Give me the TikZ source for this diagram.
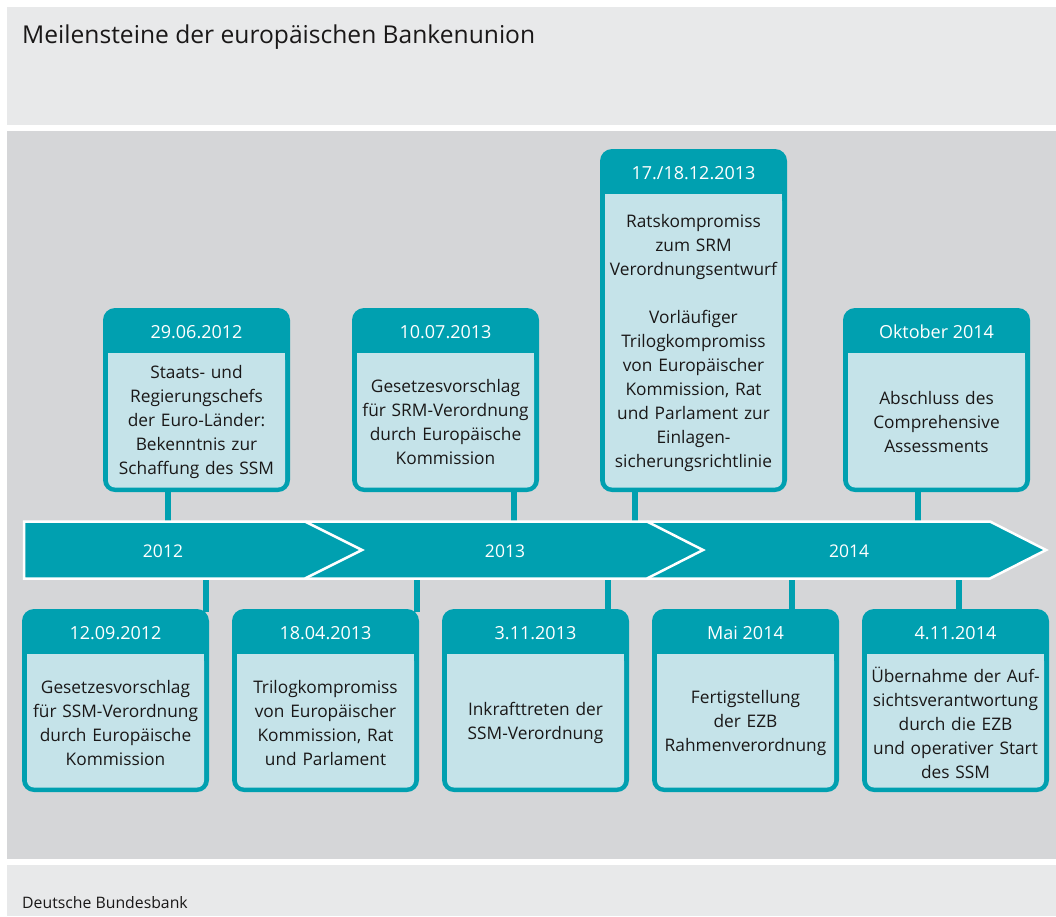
\documentclass[tikz,border=0pt]{standalone}
\usepackage{fontspec}
\setmainfont{Open Sans}
\definecolor{bbteal}{HTML}{00A0B0}
\definecolor{bblight}{HTML}{C5E3E9}
\definecolor{bbgray}{HTML}{D5D6D8}
\definecolor{bbpale}{HTML}{E8E9EA}
\definecolor{bbtext}{HTML}{1A1818}
\tikzset{
  datestyle/.style={text=white, font=\fontsize{18}{22}\selectfont, inner sep=0pt},
  bodystyle/.style={text=bbtext, font=\fontsize{17.3}{24}\selectfont, align=center, text width=180pt, inner sep=0pt},
  yearstyle/.style={text=white, font=\fontsize{17.5}{22}\selectfont, inner sep=0pt},
  conn/.style={draw=bbteal, line width=5.5pt},
}
\newcommand\milestone[6]{%
  \fill[bbteal, rounded corners=12pt] (#2,#3) rectangle ({#2+187},#4);
  \fill[bblight, rounded corners=7pt] ({#2+5},{#3+45}) rectangle ({#2+182},{#4-4.5});
  \fill[bblight] ({#2+5},{#3+45}) rectangle ({#2+182},{#3+60});
  \node[datestyle] (#1d) at ({#2+93.5},{#3+24}) {#5};
  \node[bodystyle] (#1t) at ({#2+93.5},{(#3+45+#4-4.5)/2+2}) {#6};
}
\begin{document}
\begin{tikzpicture}[x=1pt,y=-1pt]
\useasboundingbox (0,0) rectangle (1056,916);
\fill[white] (0,0) rectangle (1056,916);
\fill[bbpale] (7,7) rectangle (1056,125);
\fill[bbgray] (7,131) rectangle (1056,859);
\fill[bbpale] (7,865) rectangle (1056,916);
\node[anchor=base west, text=bbtext, font=\fontsize{24.6}{29}\selectfont, inner sep=0pt] (title) at (22,43) {Meilensteine der europäischen Bankenunion};
\node[anchor=base west, text=bbtext, font=\fontsize{15.8}{19}\selectfont, inner sep=0pt] (source) at (22,908) {Deutsche Bundesbank};

% connectors (top)
\coordinate (t1a) at (168,490); \coordinate (t1b) at (168,522);
\coordinate (t2a) at (514,490); \coordinate (t2b) at (514,522);
\coordinate (t3a) at (635,490); \coordinate (t3b) at (635,522);
\coordinate (t4a) at (918,490); \coordinate (t4b) at (918,522);
% connectors (bottom)
\coordinate (b1a) at (206,578); \coordinate (b1b) at (206,612);
\coordinate (b2a) at (417,578); \coordinate (b2b) at (417,612);
\coordinate (b3a) at (608,578); \coordinate (b3b) at (608,612);
\coordinate (b4a) at (792,578); \coordinate (b4b) at (792,612);
\coordinate (b5a) at (959,578); \coordinate (b5b) at (959,612);
\foreach \c in {t1,t2,t3,t4,b1,b2,b3,b4,b5} \draw[conn] (\c a) -- (\c b);

% timeline arrow
\filldraw[fill=bbteal, draw=white, line width=2.5pt, line join=miter]
  (24,521.5) -- (990,521.5) -- (1046,550) -- (990,578.5) -- (24,578.5) -- cycle;
\draw[white, line width=2.5pt] (305,521.5) -- (362,550) -- (305,578.5);
\draw[white, line width=2.5pt] (647,521.5) -- (703,550) -- (647,578.5);
\node[yearstyle] (y2012) at (163,551) {2012};
\node[yearstyle] (y2013) at (505,551) {2013};
\node[yearstyle] (y2014) at (849,551) {2014};

% top milestones
\milestone{m1}{103}{308}{492}{29.06.2012}{Staats- und\\Regierungschefs\\der Euro-Länder:\\Bekenntnis zur\\Schaffung des SSM}
\milestone{m2}{352}{308}{492}{10.07.2013}{Gesetzesvorschlag\\für SRM-Verordnung\\durch Europäische\\Kommission}
\milestone{m3}{600}{149}{492}{17./18.12.2013}{Ratskompromiss\\zum SRM\\Verordnungsentwurf\\[24pt]Vorläufiger\\Trilogkompromiss\\von Europäischer\\Kommission, Rat\\und Parlament zur\\Einlagen-\\sicherungsrichtlinie}
\milestone{m4}{843}{308}{492}{Oktober 2014}{Abschluss des\\Comprehensive\\Assessments}

% bottom milestones
\milestone{n1}{22}{609}{792}{12.09.2012}{Gesetzesvorschlag\\für SSM-Verordnung\\durch Europäische\\Kommission}
\milestone{n2}{232}{609}{792}{18.04.2013}{Trilogkompromiss\\von Europäischer\\Kommission, Rat\\und Parlament}
\milestone{n3}{442}{609}{792}{3.11.2013}{Inkrafttreten der\\SSM-Verordnung}
\milestone{n4}{652}{609}{792}{Mai 2014}{Fertigstellung\\der EZB\\Rahmenverordnung}
\milestone{n5}{862}{609}{792}{4.11.2014}{Übernahme der Auf-\\sichtsverantwortung\\durch die EZB\\und operativer Start\\des SSM}
\end{tikzpicture}
\end{document}
